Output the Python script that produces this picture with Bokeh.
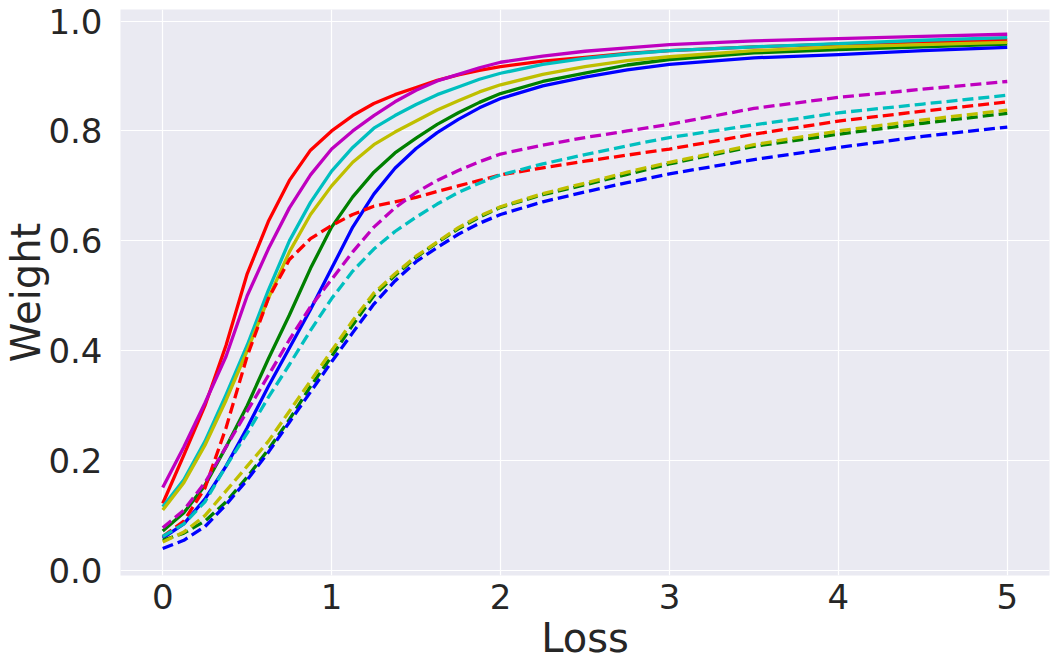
from bokeh.plotting import figure
from bokeh.models import FixedTicker, PrintfTickFormatter, Range1d
from bokeh.embed import file_html
from bokeh.resources import INLINE

# Loss values at which the curves were read
loss = [0, 0.125, 0.25, 0.375, 0.5, 0.625, 0.75, 0.875, 1.0, 1.125, 1.25,
        1.375, 1.5, 1.625, 1.75, 1.875, 2.0, 2.25, 2.5, 2.75, 3.0, 3.5, 4.0, 4.5, 5.0]

# Solid curves
red_solid = [0.122, 0.21, 0.30, 0.41, 0.54, 0.635, 0.71, 0.765, 0.80, 0.828, 0.85,
             0.866, 0.879, 0.892, 0.902, 0.91, 0.917, 0.927, 0.934, 0.941, 0.946,
             0.953, 0.958, 0.962, 0.965]
magenta_solid = [0.151, 0.225, 0.305, 0.39, 0.50, 0.585, 0.66, 0.72, 0.767, 0.80, 0.828,
                 0.853, 0.874, 0.891, 0.903, 0.915, 0.925, 0.936, 0.945, 0.951, 0.957,
                 0.964, 0.968, 0.972, 0.976]
cyan_solid = [0.116, 0.165, 0.235, 0.32, 0.41, 0.51, 0.60, 0.67, 0.727, 0.77, 0.805,
              0.828, 0.848, 0.866, 0.88, 0.894, 0.905, 0.921, 0.932, 0.94, 0.946,
              0.953, 0.959, 0.965, 0.970]
yellow_solid = [0.110, 0.16, 0.228, 0.31, 0.40, 0.495, 0.58, 0.648, 0.70, 0.743, 0.775,
                0.798, 0.818, 0.838, 0.855, 0.871, 0.884, 0.903, 0.917, 0.928, 0.935,
                0.946, 0.953, 0.957, 0.961]
green_solid = [0.072, 0.105, 0.155, 0.225, 0.30, 0.385, 0.465, 0.55, 0.625, 0.68, 0.725,
               0.76, 0.787, 0.812, 0.833, 0.852, 0.868, 0.89, 0.905, 0.92, 0.930,
               0.942, 0.948, 0.953, 0.958]
blue_solid = [0.059, 0.085, 0.13, 0.19, 0.26, 0.335, 0.405, 0.475, 0.55, 0.625, 0.685,
              0.732, 0.768, 0.797, 0.821, 0.842, 0.859, 0.882, 0.898, 0.911, 0.921,
              0.933, 0.939, 0.946, 0.952]

# Dashed curves
red_dashed = [0.062, 0.09, 0.15, 0.26, 0.39, 0.495, 0.566, 0.604, 0.628, 0.648, 0.663,
              0.671, 0.679, 0.69, 0.70, 0.71, 0.72, 0.733, 0.745, 0.756, 0.767,
              0.794, 0.818, 0.836, 0.853]
magenta_dashed = [0.078, 0.11, 0.16, 0.225, 0.29, 0.355, 0.42, 0.48, 0.53, 0.58, 0.625,
                  0.66, 0.688, 0.71, 0.728, 0.744, 0.758, 0.774, 0.788, 0.80, 0.812,
                  0.841, 0.861, 0.876, 0.890]
cyan_dashed = [0.062, 0.085, 0.125, 0.19, 0.25, 0.315, 0.375, 0.437, 0.495, 0.545, 0.585,
               0.617, 0.643, 0.667, 0.688, 0.705, 0.72, 0.74, 0.757, 0.773, 0.788,
               0.811, 0.833, 0.849, 0.865]
yellow_dashed = [0.052, 0.07, 0.10, 0.145, 0.19, 0.235, 0.29, 0.345, 0.40, 0.455, 0.505,
                 0.54, 0.572, 0.598, 0.624, 0.645, 0.662, 0.686, 0.705, 0.725, 0.743,
                 0.775, 0.80, 0.82, 0.838]
green_dashed = [0.055, 0.068, 0.09, 0.125, 0.17, 0.22, 0.275, 0.335, 0.39, 0.447, 0.50,
                0.537, 0.57, 0.597, 0.622, 0.643, 0.661, 0.684, 0.702, 0.721, 0.740,
                0.772, 0.794, 0.814, 0.832]
blue_dashed = [0.040, 0.055, 0.08, 0.12, 0.165, 0.215, 0.27, 0.325, 0.38, 0.433, 0.485,
               0.527, 0.562, 0.588, 0.612, 0.632, 0.648, 0.671, 0.689, 0.706, 0.722,
               0.748, 0.77, 0.79, 0.807]

x_ticks = [0, 1, 2, 3, 4, 5]
y_ticks = [0.0, 0.2, 0.4, 0.6, 0.8, 1.0]

series = [
    (red_solid, "#ff0000", "solid"),
    (green_solid, "#008000", "solid"),
    (blue_solid, "#0000ff", "solid"),
    (cyan_solid, "#00bfbf", "solid"),
    (magenta_solid, "#bf00bf", "solid"),
    (yellow_solid, "#bfbf00", "solid"),
    (red_dashed, "#ff0000", "11 5"),
    (green_dashed, "#008000", "11 5"),
    (blue_dashed, "#0000ff", "11 5"),
    (cyan_dashed, "#00bfbf", "11 5"),
    (magenta_dashed, "#bf00bf", "11 5"),
    (yellow_dashed, "#bfbf00", "11 5"),
]

p = figure(width=1052, height=666, output_backend="svg", toolbar_location=None,
           x_range=Range1d(-0.25, 5.25), y_range=Range1d(-0.009, 1.021),
           min_border_left=115, min_border_right=3, min_border_top=9,
           min_border_bottom=91)

p.background_fill_color = "#eaeaf2"
p.border_fill_color = "white"
p.outline_line_color = None

for ys, col, dash in series:
    p.line(loss, ys, line_color=col, line_width=3.3, line_dash=dash,
           line_join="round")

p.xaxis.ticker = FixedTicker(ticks=x_ticks)
p.yaxis.ticker = FixedTicker(ticks=y_ticks)
p.yaxis.formatter = PrintfTickFormatter(format="%.1f")

for ax in (p.xaxis[0], p.yaxis[0]):
    ax.axis_line_color = None
    ax.major_tick_line_color = None
    ax.minor_tick_line_color = None
    ax.major_label_text_font = "DejaVu Sans"
    ax.major_label_text_font_size = "34px"
    ax.major_label_text_color = "#262626"
    ax.axis_label_text_font = "DejaVu Sans"
    ax.axis_label_text_font_size = "40px"
    ax.axis_label_text_font_style = "normal"
    ax.axis_label_text_color = "#262626"

p.xaxis.axis_label = "Loss"
p.yaxis.axis_label = "Weight"
p.xaxis.major_label_standoff = 2
p.yaxis.major_label_standoff = 12
p.xaxis.axis_label_standoff = 3
p.yaxis.axis_label_standoff = -4

p.xgrid.grid_line_color = "white"
p.ygrid.grid_line_color = "white"
p.xgrid.grid_line_width = 1.2
p.ygrid.grid_line_width = 1.2

open("out.html", "w").write(file_html(p, INLINE))
